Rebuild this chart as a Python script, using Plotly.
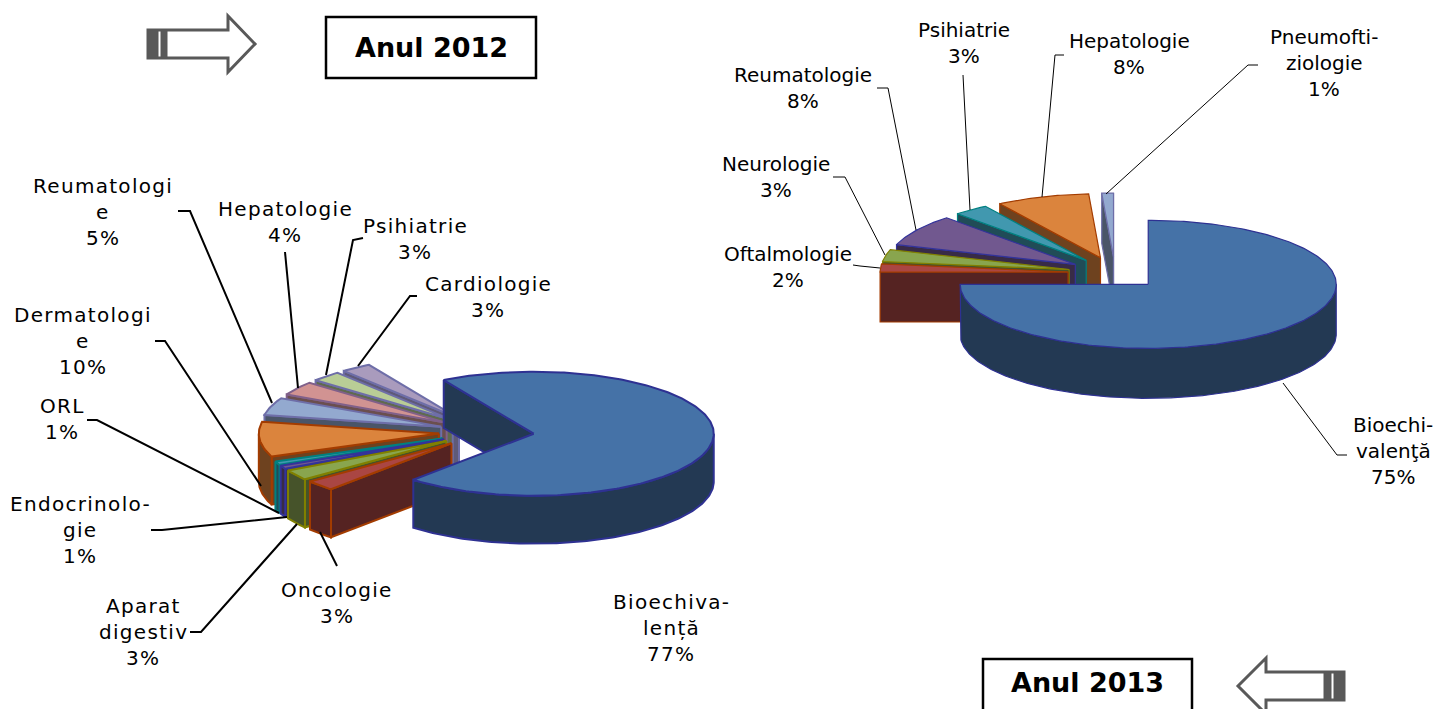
import math
import plotly.graph_objects as go

# ---- data ----
names_2012 = ["Bioechivalență", "Oncologie", "Aparat digestiv", "Endocrinologie", "ORL",
              "Dermatologie", "Reumatologie", "Hepatologie", "Psihiatrie", "Cardiologie"]
values_2012 = [77, 3, 3, 1, 1, 10, 5, 4, 3, 3]
names_2013 = ["Bioechivalenţă", "Oftalmologie", "Neurologie", "Reumatologie", "Psihiatrie",
              "Hepatologie", "Pneumoftiziologie"]
values_2013 = [75, 2, 3, 8, 3, 8, 1]

# ---- styles ----
top_colors = ["#4572A7", "#AA4643", "#89A54E", "#71588F", "#4198AF", "#DB843D",
              "#93A9CF", "#D19392", "#B9CD96", "#A99BBD"]
wall_colors = ["#233953", "#552322", "#46532A", "#382B47", "#204C57", "#6E421F",
               "#4A5568", "#6B4F4E", "#5F6B4E", "#5F5A78"]
edge_colors = ["#2E3192", "#A33C00", "#808000", "#33339A", "#008080", "#A33C00",
               "#6E6EA8", "#80608A", "#6E6EA8", "#6E6EA8"]

PIE_2012 = dict(cx=486.3, cy=432, rx=180, ry=62, depth=48, expl=0.265, start=330, lw=2.0)
PIE_2013 = dict(cx=1115, cy=273, rx=188, ry=64, depth=50, expl=0.25, start=0, lw=1.2)

labels_2012 = [
    (["Reumatologi", "e", "5%"], 103, 186), (["Hepatologie", "4%"], 285, 209),
    (["Psihiatrie", "3%"], 415, 226), (["Cardiologie", "3%"], 488, 284),
    (["Dermatologi", "e", "10%"], 83, 315), (["ORL", "1%"], 62, 406),
    (["Endocrinolo-", "gie", "1%"], 80, 504), (["Aparat", "digestiv", "3%"], 143, 606),
    (["Oncologie", "3%"], 337, 590), (["Bioechiva-", "lență", "77%"], 671, 602),
]
labels_2013 = [
    (["Psihiatrie", "3%"], 964, 30), (["Hepatologie", "8%"], 1129, 41),
    (["Pneumofti-", "ziologie", "1%"], 1324, 37), (["Reumatologie", "8%"], 803, 75),
    (["Neurologie", "3%"], 776, 164), (["Oftalmologie", "2%"], 788, 254),
    (["Bioechi-", "valenţă", "75%"], 1393, 425),
]
leaders_2012 = [
    [(178, 211), (190, 211), (272, 403)], [(285, 252), (298, 388)],
    [(363, 238), (353, 240), (326, 375)], [(417, 296), (410, 296), (358, 366)],
    [(155, 341), (165, 341), (261, 486)], [(87, 420), (97, 420), (279, 513)],
    [(151, 530), (162, 530), (287, 517)], [(190, 632), (201, 632), (297, 524)],
    [(337, 566), (320, 532)],
]
leaders_2013 = [
    [(1258, 65), (1248, 65), (1106, 194)], [(1064, 55), (1055, 55), (1042, 197)],
    [(963, 75), (970, 210)], [(877, 88), (888, 88), (916, 230)],
    [(833, 177), (845, 177), (885, 255)], [(853, 265), (860, 266), (880, 268)],
    [(1347, 455), (1337, 455), (1283, 383)],
]

fig = go.Figure()


def poly(pts, fill, line, lw, name):
    fig.add_trace(go.Scatter(
        x=[p[0] for p in pts] + [pts[0][0]], y=[p[1] for p in pts] + [pts[0][1]],
        mode="lines", fill="toself", fillcolor=fill, line=dict(color=line, width=lw),
        name=name, hoverinfo="name", showlegend=False))


def draw_pie(names, values, g):
    total = sum(values)
    spans, a = [], g["start"]
    for v in values:
        s = v / total * 360
        spans.append((a, a + s))
        a += s

    def rim(ox, oy, th, dy=0):
        t = math.radians(th)
        return (ox + g["rx"] * math.sin(t), oy - g["ry"] * math.cos(t) + dy)

    # back slices first (last one to first one), first slice on top of all
    for i in list(range(1, len(values)))[::-1] + [0]:
        a0, a1 = spans[i]
        mid = math.radians((a0 + a1) / 2)
        ox = g["cx"] + g["expl"] * g["rx"] * math.sin(mid)
        oy = g["cy"] - g["expl"] * g["ry"] * math.cos(mid)
        d = g["depth"]
        n = max(2, int(a1 - a0) + 2)
        ths = [a0 + (a1 - a0) * k / n for k in range(n + 1)]
        wc, ec, lw = wall_colors[i], edge_colors[i], g["lw"]
        # cut faces
        if math.sin(math.radians(a0)) < 0:
            p = rim(ox, oy, a0)
            poly([(ox, oy), p, (p[0], p[1] + d), (ox, oy + d)], wc, ec, lw, names[i])
        if math.sin(math.radians(a1)) > 0:
            p = rim(ox, oy, a1)
            poly([(ox, oy), p, (p[0], p[1] + d), (ox, oy + d)], wc, ec, lw, names[i])
        # outer wall: only the part facing the viewer
        lo, hi = a0, a1
        for shift in (0, 360):
            l2, h2 = max(lo, 90 + shift), min(hi, 270 + shift)
            if h2 > l2:
                m = max(2, int(h2 - l2) + 2)
                tt = [l2 + (h2 - l2) * k / m for k in range(m + 1)]
                poly([rim(ox, oy, t) for t in tt] + [rim(ox, oy, t, d) for t in tt[::-1]],
                     wc, ec, lw, names[i])
        # top
        poly([(ox, oy)] + [rim(ox, oy, t) for t in ths], top_colors[i], ec, lw, names[i])


draw_pie(names_2012, values_2012, PIE_2012)
draw_pie(names_2013, values_2013, PIE_2013)

shapes, annos = [], []


def add_path(pts, fill=None, line="#000000", lw=1.0, close=False):
    d = "M" + " L".join(f"{x},{y}" for x, y in pts) + (" Z" if close else "")
    shapes.append(dict(type="path", path=d, xref="x", yref="y", layer="above",
                       fillcolor=fill if fill else "rgba(0,0,0,0)",
                       line=dict(color=line, width=lw)))


for ln in leaders_2012:
    add_path(ln, lw=2.0)
for ln in leaders_2013:
    add_path(ln, lw=1.0)


def add_label(lines, x, y, spacing):
    for k, t in enumerate(lines):
        txt = f'<span style="letter-spacing:{spacing}px">{t}</span>' if spacing else t
        annos.append(dict(x=x, y=y + 26 * k, xref="x", yref="y", text=txt, showarrow=False,
                          xanchor="center", yanchor="middle",
                          font=dict(family="DejaVu Sans", size=20, color="#000000")))


for lines, x, y in labels_2012:
    add_label(lines, x, y, 1.3)
for lines, x, y in labels_2013:
    add_label(lines, x, y, 0)

# year boxes
shapes.append(dict(type="rect", x0=326, x1=536, y0=17, y1=78, xref="x", yref="y",
                   line=dict(color="#000000", width=2.5), fillcolor="#FFFFFF", layer="above"))
shapes.append(dict(type="rect", x0=983, x1=1192, y0=659, y1=720, xref="x", yref="y",
                   line=dict(color="#000000", width=2.5), fillcolor="#FFFFFF", layer="above"))
for t, x, y in (("Anul 2012", 431, 47), ("Anul 2013", 1087, 682)):
    annos.append(dict(x=x, y=y, xref="x", yref="y", text=f"<b>{t}</b>", showarrow=False,
                      xanchor="center", yanchor="middle",
                      font=dict(family="DejaVu Sans", size=27, color="#000000")))

# arrows
GREY = "#595959"
add_path([(148, 30), (228, 30), (228, 16), (255, 44), (228, 72), (228, 58), (148, 58)],
         fill="#FFFFFF", line=GREY, lw=3, close=True)
add_path([(148, 30), (158, 30), (158, 58), (148, 58)], fill=GREY, line=GREY, lw=1, close=True)
add_path([(161, 30), (167, 30), (167, 58), (161, 58)], fill=GREY, line=GREY, lw=1, close=True)
add_path([(1344, 672), (1266, 672), (1266, 658), (1238, 686), (1266, 714), (1266, 700), (1344, 700)],
         fill="#FFFFFF", line=GREY, lw=3, close=True)
add_path([(1324, 672), (1331, 672), (1331, 700), (1324, 700)], fill=GREY, line=GREY, lw=1, close=True)
add_path([(1334, 672), (1344, 672), (1344, 700), (1334, 700)], fill=GREY, line=GREY, lw=1, close=True)

fig.update_layout(
    width=1434, height=709, margin=dict(l=0, r=0, t=0, b=0),
    paper_bgcolor="#FFFFFF", plot_bgcolor="#FFFFFF", showlegend=False,
    shapes=shapes, annotations=annos,
    xaxis=dict(range=[0, 1434], visible=False, fixedrange=True),
    yaxis=dict(range=[709, 0], visible=False, fixedrange=True),
)
fig.write_html("out.html", config=dict(displayModeBar=False),
               post_script="document.body.style.margin='0';")
